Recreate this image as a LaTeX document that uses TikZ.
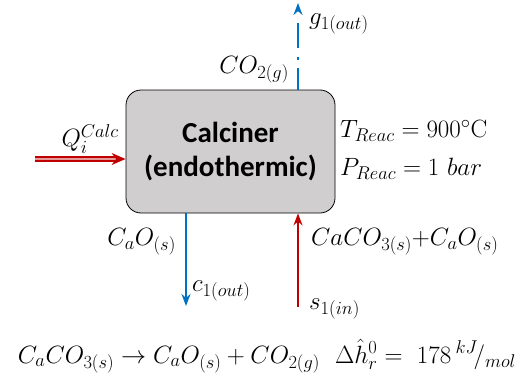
\RequirePackage{fix-cm}
\documentclass[tikz,border=0pt]{standalone}
\usepackage{fontspec}
\usepackage{tikz}
\usetikzlibrary{arrows.meta}
\newfontfamily\boxfont{Carlito}
\DeclareMathSizes{25}{25}{18.5}{14}
\definecolor{flowblue}{HTML}{0070C0}
\definecolor{flowred}{HTML}{C00000}
\definecolor{boxgray}{HTML}{D0CECE}

\begin{document}
\begin{tikzpicture}[x=1pt, y=-1pt,
  calcbox/.style={draw=black, thick, fill=boxgray, rounded corners=15pt,
    minimum width=209pt, minimum height=123pt, align=center,
    font=\boxfont\bfseries\fontsize{29}{34}\selectfont},
  lbl/.style={inner sep=0pt, font=\fontsize{25}{29}\selectfont},
  gasline/.style={flowblue, line width=1.8pt,
    dash pattern=on 22pt off 8pt on 3pt off 9pt on 25pt off 20pt,
    -{Stealth[length=12pt, width=9pt]}},
  solidout/.style={flowblue, line width=1.8pt, -{Stealth[length=12pt, width=9pt]}},
  solidin/.style={flowred, line width=1.8pt, -{Stealth[length=12pt, width=9pt]}},
  heatline/.style={flowred, line width=1.3pt, double=flowred!40, double distance=2.5pt,
    -{Stealth[length=14pt, width=12pt, fill=flowred, color=flowred]}}]
\useasboundingbox (0,0) rectangle (530,380);
\node[calcbox] (calc) at (230.5,151.5) {Calciner\\(endothermic)};
\coordinate (gout) at (298,3);
\coordinate (qin) at (35,159);
\coordinate (cout) at (186,306);
\coordinate (sin) at (298,307);
\draw[gasline] (calc.north -| gout) -- (gout);
\draw[heatline] (qin) -- (qin -| calc.west);
\draw[solidout] (calc.south -| cout) -- (cout);
\draw[solidin] (sin) -- (sin |- calc.south);
\node[lbl, anchor=west] (glbl) at (309,24) {$g_{1(out)}$};
\node[lbl, anchor=east] (co2lbl) at (289,70) {$CO_{2(g)}$};
\node[lbl, anchor=east] (qlbl) at (119,139) {$Q_i^{Calc}$};
\node[lbl, anchor=west] (tlbl) at (340,131) {$T_{Reac} = 900^{\circ}\mathrm{C}$};
\node[lbl, anchor=west] (plbl) at (340,169) {$P_{Reac} = 1\ bar$};
\node[lbl, anchor=east] (caolbl) at (176,242) {$C_aO_{(s)}$};
\node[lbl, anchor=west] (clbl) at (192,291) {$c_{1(out)}$};
\node[lbl, anchor=west] (feedlbl) at (311,242) {$CaCO_{3(s)}{+}C_aO_{(s)}$};
\node[lbl, anchor=west] (slbl) at (309,309) {$s_{1(in)}$};
\node[lbl] (reaction) at (267,356) {$C_aCO_{3(s)} \rightarrow C_aO_{(s)} + CO_{2(g)}\ \ \Delta\hat{h}_r^0 =\ 178\,{}^{kJ}\!/_{mol}$};
\end{tikzpicture}
\end{document}
